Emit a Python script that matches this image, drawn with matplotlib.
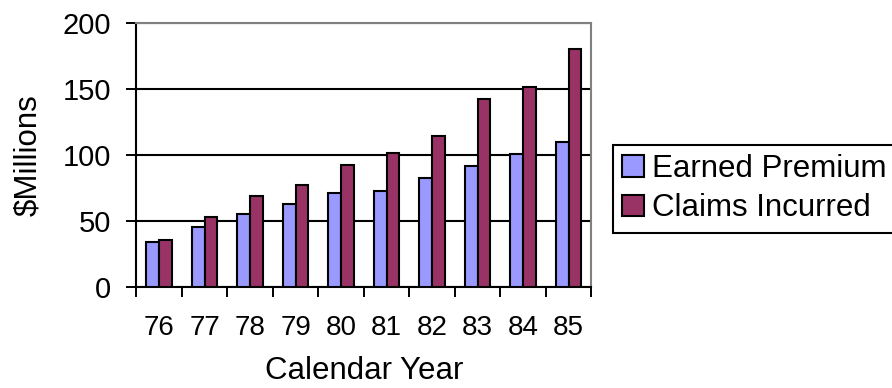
import numpy as np
import matplotlib.pyplot as plt

plt.rcParams['font.family'] = ['Liberation Sans', 'DejaVu Sans']

years = ['76', '77', '78', '79', '80', '81', '82', '83', '84', '85']
earned_premium = [33.7, 45.3, 54.9, 62.5, 71.1, 72.7, 82.3, 91.9, 100.8, 109.9]
claims_incurred = [35.4, 53.2, 68.9, 77.5, 92.4, 101.8, 114.2, 142.5, 151.4, 180.8]

x = np.arange(len(years))
w = 0.28

fig = plt.figure(figsize=(8.92, 3.88), dpi=100)
ax = fig.add_axes([0.153, 0.261, 0.510, 0.679])

ax.bar(x - w / 2, earned_premium, w, color='#9999FF', edgecolor='black',
       linewidth=1.5, label='Earned Premium', zorder=3)
ax.bar(x + w / 2, claims_incurred, w, color='#993366', edgecolor='black',
       linewidth=1.5, label='Claims Incurred', zorder=3)

ax.set_xlim(-0.5, len(years) - 0.5)
ax.set_ylim(0, 200)
ax.set_yticks([0, 50, 100, 150, 200])
ax.yaxis.grid(True, color='black', linewidth=1.5)
ax.set_axisbelow(True)

# boundary ticks (major) and centred labels (minor)
ax.set_xticks(np.arange(-0.5, len(years), 1.0))
ax.set_xticklabels([])
ax.set_xticks(x, minor=True)
ax.set_xticklabels(years, minor=True)
ax.tick_params(axis='x', which='major', length=7, width=1.4, direction='out')
ax.tick_params(axis='x', which='minor', length=0, pad=20, labelsize=20)
ax.tick_params(axis='y', length=7, width=1.4, direction='out', pad=11, labelsize=21)

for s in ['left', 'bottom']:
    ax.spines[s].set_color('black')
    ax.spines[s].set_linewidth(1.5)
for s in ['top', 'right']:
    ax.spines[s].set_color('#808080')
    ax.spines[s].set_linewidth(1.5)

ax.set_xlabel('Calendar Year', fontsize=22.5, labelpad=11)
ax.set_ylabel('$Millions', fontsize=22.5, labelpad=14)

leg = fig.legend(loc='upper left', bbox_to_anchor=(0.687, 0.627), fontsize=22.5,
                 frameon=True, fancybox=False, edgecolor='black', framealpha=1,
                 handlelength=0.7, handleheight=0.7, handletextpad=0.25,
                 borderpad=0.3, labelspacing=0.3, borderaxespad=0)
leg.get_frame().set_linewidth(1.5)

fig.savefig('out.png', dpi=100)
